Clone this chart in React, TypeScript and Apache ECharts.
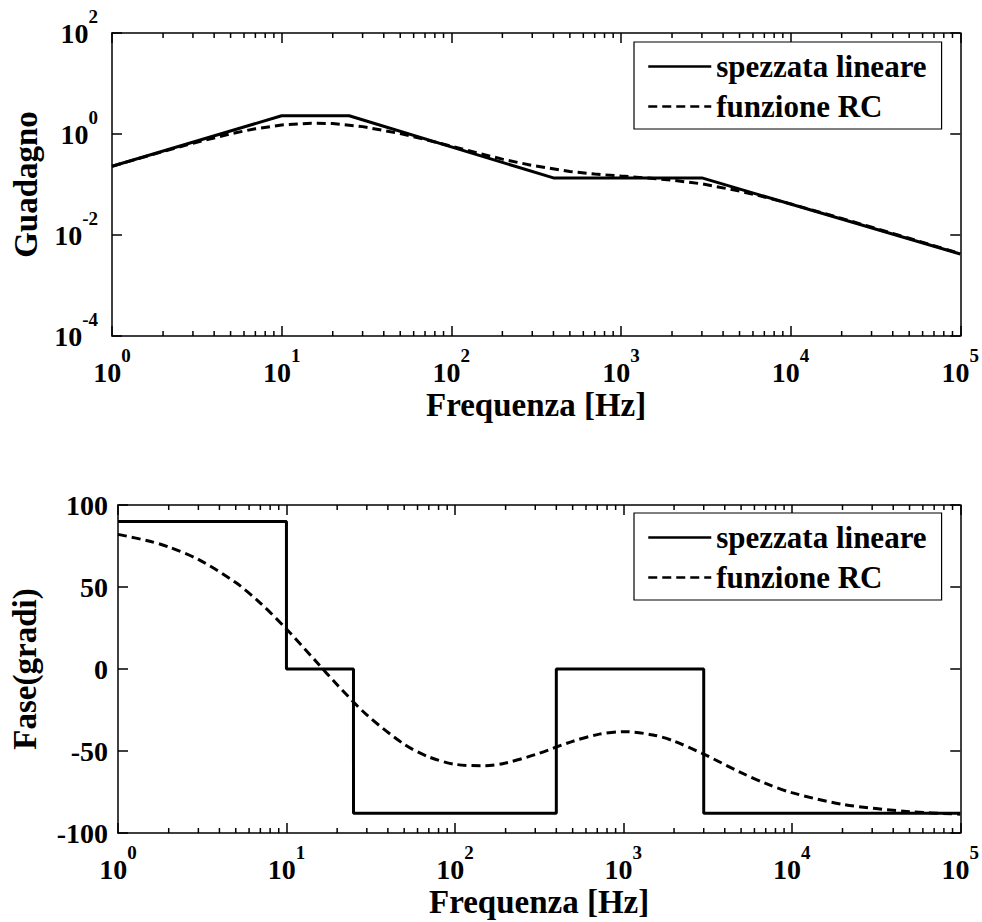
import React, { useEffect, useRef } from 'react';
import * as echarts from 'echarts';

// Asymptotic ("spezzata lineare") break points
const freqAsym = [1, 10, 25, 400, 3000, 100000];
const gainAsym = [0.23, 2.3, 2.3, 0.135, 0.135, 0.0042];
const phaseAsym = [90, 0, -88, 0, -88, -88];

// RC network response ("funzione RC")
const freqRC = [1, 1.5, 2, 3, 5, 7, 10, 15, 20, 30, 50, 70, 100, 150, 200, 300, 500, 700, 1000, 1500, 2000, 3000, 5000, 7000, 10000, 20000, 50000, 100000];
const gainRC = [0.229, 0.341, 0.45, 0.656, 1.01, 1.27, 1.51, 1.64, 1.61, 1.4, 1.02, 0.777, 0.572, 0.403, 0.318, 0.238, 0.181, 0.161, 0.147, 0.133, 0.122, 0.103, 0.0742, 0.0567, 0.0413, 0.0213, 0.0086, 0.0043];
const phaseRC = [82.1, 78.2, 74.4, 66.8, 52.7, 40.2, 24.4, 4.6, -9.6, -28.0, -45.9, -53.6, -58.1, -59.0, -57.3, -52.2, -44.1, -40.0, -38.2, -40.2, -44.0, -51.9, -63.2, -69.8, -75.4, -82.5, -87.0, -88.5];

// minor tick positions of the logarithmic frequency axis
const minorTicks = [
  2, 3, 4, 5, 6, 7, 8, 9,
  20, 30, 40, 50, 60, 70, 80, 90,
  200, 300, 400, 500, 600, 700, 800, 900,
  2000, 3000, 4000, 5000, 6000, 7000, 8000, 9000,
  20000, 30000, 40000, 50000, 60000, 70000, 80000, 90000,
];

const seriesNames = ['spezzata lineare', 'funzione RC'];
const xTitle = 'Frequenza [Hz]';
const gainTitle = 'Guadagno';
const phaseTitle = 'Fase(gradi)';
const freqMin = 1;
const freqMax = 100000;
// gain axis in decades (exponent of 10)
const gainExpMin = -4;
const gainExpMax = 2;
const gainExpStep = 2;
const phaseMin = -100;
const phaseMax = 100;
const phaseStep = 50;

const FONT = "'Liberation Serif', 'Times New Roman', serif";
const BLACK = '#000';

const powRich = {
  b: { fontSize: 28, fontWeight: 'bold', fontFamily: FONT, color: BLACK, lineHeight: 52 },
  s: { fontSize: 19, fontWeight: 'bold', fontFamily: FONT, color: BLACK, lineHeight: 19, verticalAlign: 'top' },
};
const expLabel = (e: number) => `{b|10}{s|${e}}`;
const freqFormatter = (v: number) => expLabel(Math.round(Math.log10(v)));
const gainFormatter = (v: number) => expLabel(Math.round(v));

export default function App() {
  const ref = useRef<HTMLDivElement>(null);
  useEffect(() => {
    document.body.style.margin = '0';
    const chart = echarts.init(ref.current!, null, { renderer: 'svg' });

    const axisLine = { show: true, onZero: false, lineStyle: { color: BLACK, width: 1.5 } };
    const tick = { show: true, inside: true, length: 10, lineStyle: { color: BLACK, width: 1.5 } };
    const nameStyle = { fontSize: 33, fontWeight: 'bold', fontFamily: FONT, color: BLACK };

    const freqAxis = (grid: number, position: string, main: boolean) => ({
      type: 'log', logBase: 10, gridIndex: grid, position, min: freqMin, max: freqMax, splitNumber: 5,
      axisLine, axisTick: tick, splitLine: { show: false },
      axisLabel: main
        ? { show: true, margin: 10, formatter: freqFormatter, rich: powRich, showMinLabel: true, showMaxLabel: true }
        : { show: false },
      name: main ? xTitle : '', nameLocation: 'middle', nameGap: 52,
      nameTextStyle: nameStyle,
    });

    const mirrorY = (grid: number, extra: any) => ({
      type: 'value', gridIndex: grid, position: 'right', ...extra,
      axisLine, axisTick: tick, splitLine: { show: false }, axisLabel: { show: false },
    });

    const legendBase = (top: number) => ({
      left: 634, top, orient: 'vertical', data: seriesNames,
      borderColor: BLACK, borderWidth: 1.2, backgroundColor: '#fff',
      padding: [9, 15, 7, 13], itemWidth: 63, itemHeight: 20, itemGap: 9,
      itemStyle: { color: 'rgba(0,0,0,0)', borderColor: 'rgba(0,0,0,0)', borderWidth: 0 },
      lineStyle: { width: 2.5 },
      textStyle: { fontSize: 31, fontWeight: 'bold', fontFamily: FONT, color: BLACK, lineHeight: 31 },
      selectedMode: false,
    });

    const minorTickSeries = (xIdx: number, yIdx: number, yVal: number) => ({
      type: 'custom', xAxisIndex: xIdx, yAxisIndex: yIdx, silent: true, z: 5,
      data: minorTicks.map((v) => [v, yVal]),
      renderItem: (params: any, api: any) => {
        const cs = params.coordSys;
        const x = api.coord([api.value(0), api.value(1)])[0];
        const yb = cs.y + cs.height;
        const yt = cs.y;
        const st = { stroke: BLACK, lineWidth: 1.5 };
        return {
          type: 'group',
          children: [
            { type: 'line', shape: { x1: x, y1: yb, x2: x, y2: yb - 5 }, style: st },
            { type: 'line', shape: { x1: x, y1: yt, x2: x, y2: yt + 5 }, style: st },
          ],
        };
      },
    });

    const solid = { color: BLACK, width: 3, type: 'solid' };
    const dashed = { color: BLACK, width: 3, type: [9, 5] };

    chart.setOption({
      animation: false,
      backgroundColor: '#fff',
      grid: [
        { left: 112, top: 33, width: 849, height: 303 },
        { left: 112, top: 505, width: 849, height: 328 },
      ],
      xAxis: [
        freqAxis(0, 'bottom', true),
        freqAxis(0, 'top', false),
        freqAxis(1, 'bottom', true),
        freqAxis(1, 'top', false),
      ],
      yAxis: [
        {
          type: 'value', gridIndex: 0, position: 'left', min: gainExpMin, max: gainExpMax, interval: gainExpStep,
          axisLine, axisTick: tick, splitLine: { show: false },
          axisLabel: { show: true, margin: 14, formatter: gainFormatter, rich: powRich, showMinLabel: true, showMaxLabel: true },
          name: gainTitle, nameLocation: 'middle', nameGap: 70,
          nameTextStyle: nameStyle,
        },
        mirrorY(0, { min: gainExpMin, max: gainExpMax, interval: gainExpStep }),
        {
          type: 'value', gridIndex: 1, position: 'left', min: phaseMin, max: phaseMax, interval: phaseStep,
          axisLine, axisTick: tick, splitLine: { show: false },
          axisLabel: { show: true, margin: 10, fontSize: 28, fontWeight: 'bold', fontFamily: FONT, color: BLACK },
          name: phaseTitle, nameLocation: 'middle', nameGap: 77,
          nameTextStyle: nameStyle,
        },
        mirrorY(1, { min: phaseMin, max: phaseMax, interval: phaseStep }),
      ],
      legend: [legendBase(42), legendBase(513)],
      series: [
        {
          name: seriesNames[0], type: 'line', xAxisIndex: 0, yAxisIndex: 0, symbol: 'none',
          lineStyle: solid, itemStyle: { color: BLACK }, z: 3,
          data: freqAsym.map((f, i) => [f, Math.log10(gainAsym[i])]),
        },
        {
          name: seriesNames[1], type: 'line', xAxisIndex: 0, yAxisIndex: 0, symbol: 'none',
          lineStyle: dashed, itemStyle: { color: BLACK }, z: 3,
          data: freqRC.map((f, i) => [f, Math.log10(gainRC[i])]),
        },
        {
          name: seriesNames[0], type: 'line', xAxisIndex: 2, yAxisIndex: 2, symbol: 'none', step: 'end',
          lineStyle: solid, itemStyle: { color: BLACK }, z: 3,
          data: freqAsym.map((f, i) => [f, phaseAsym[i]]),
        },
        {
          name: seriesNames[1], type: 'line', xAxisIndex: 2, yAxisIndex: 2, symbol: 'none', smooth: 0.3,
          lineStyle: dashed, itemStyle: { color: BLACK }, z: 3,
          data: freqRC.map((f, i) => [f, phaseRC[i]]),
        },
        minorTickSeries(0, 0, 0),
        minorTickSeries(2, 2, 0),
      ],
    });
    return () => chart.dispose();
  }, []);
  return <div ref={ref} style={{ width: 982, height: 922 }} />;
}
